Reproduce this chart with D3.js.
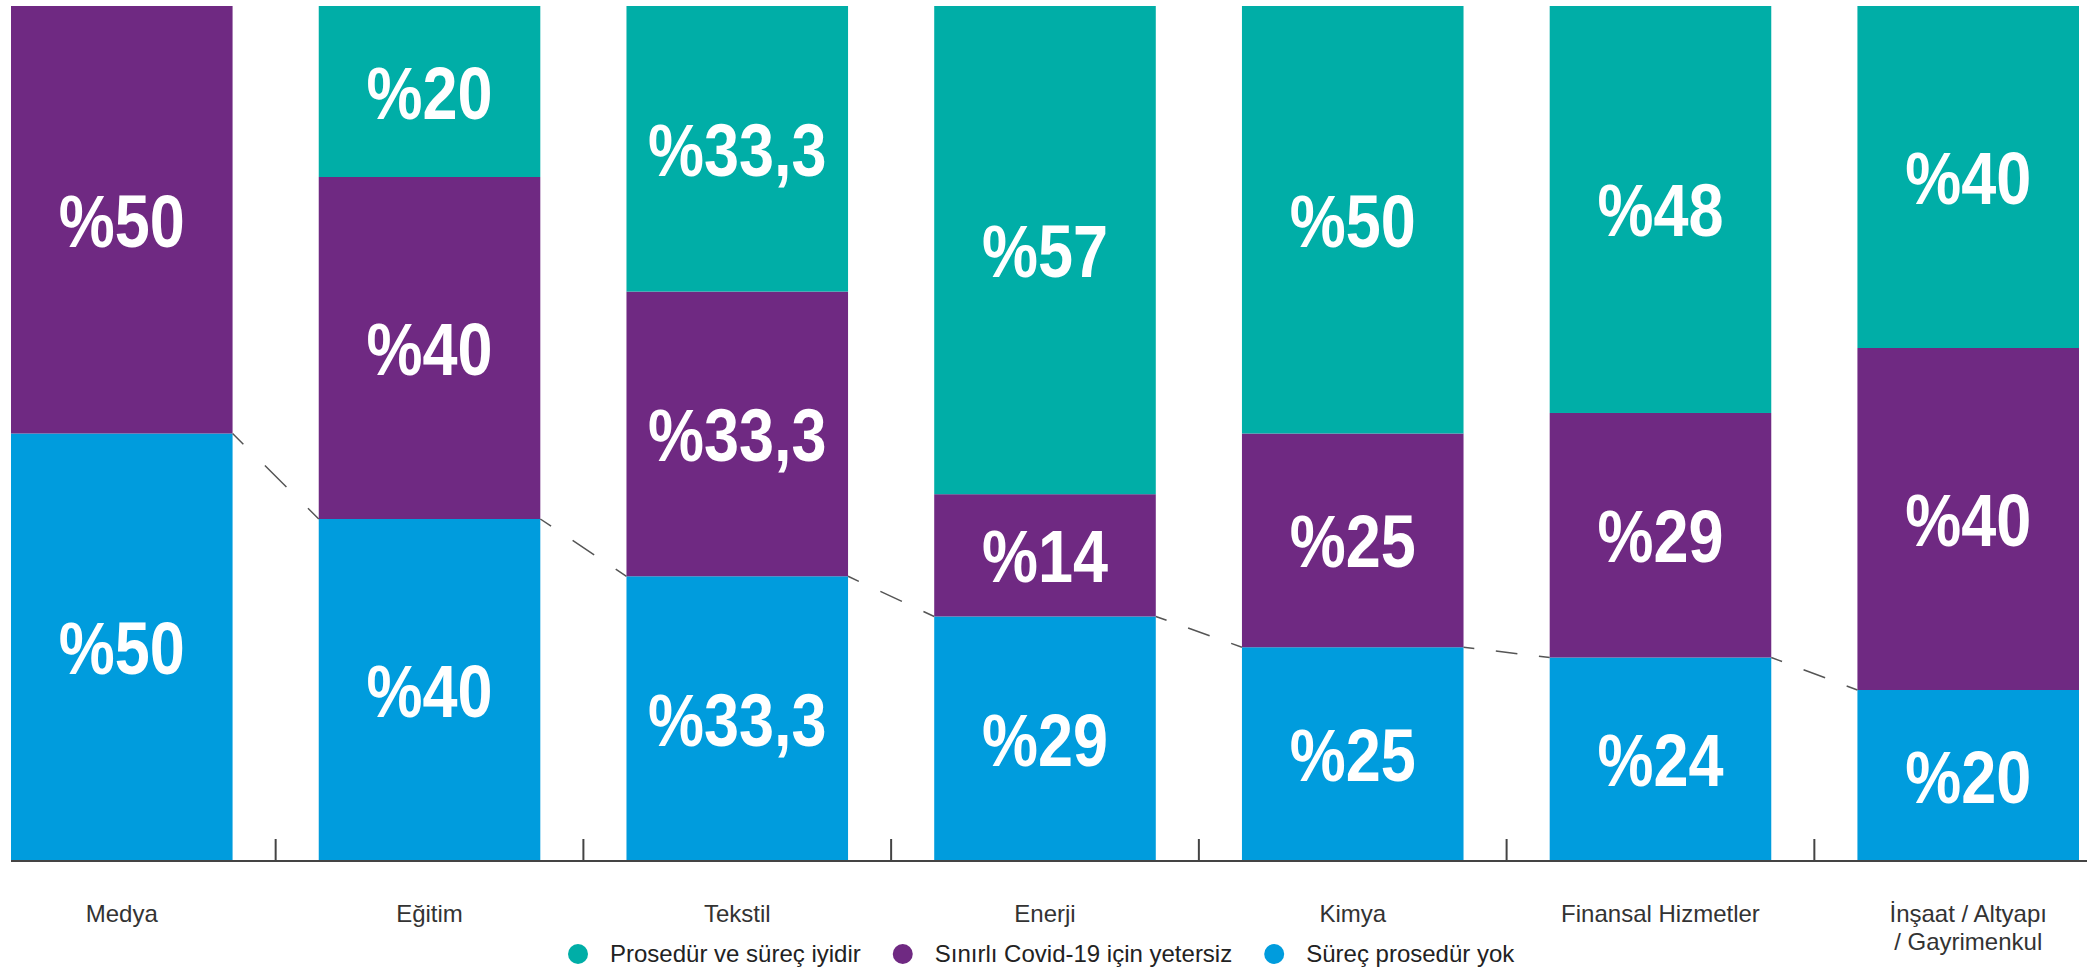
<!DOCTYPE html>
<html>
<head>
<meta charset="utf-8">
<script src="https://cdn.jsdelivr.net/npm/d3@7"></script>
<style>
  body { margin: 0; background: #fff; }
  svg { display: block; }
</style>
</head>
<body>
<div id="chart"></div>
<script>
// chart size
var width = 2087;
var height = 968;

// data
var categories = ["Medya", "Eğitim", "Tekstil", "Enerji", "Kimya", "Finansal Hizmetler", "İnşaat / Altyapı\n/ Gayrimenkul"];
var surecYok = [50, 40, 33.3, 28.6, 25, 23.8, 20];
var yetersiz = [50, 40, 33.3, 14.3, 25, 28.6, 40];
var iyi = [0, 20, 33.4, 57.1, 50, 47.6, 40];
var surecYokLabels = ["%50", "%40", "%33,3", "%29", "%25", "%24", "%20"];
var yetersizLabels = ["%50", "%40", "%33,3", "%14", "%25", "%29", "%40"];
var iyiLabels = ["", "%20", "%33,3", "%57", "%50", "%48", "%40"];
var seriesNames = ["Prosedür ve süreç iyidir", "Sınırlı Covid-19 için yetersiz", "Süreç prosedür yok"];

// colours
var teal = "#00aea7";
var purple = "#6f2982";
var blue = "#009cdd";

var keys = ["yok", "yetersiz", "iyi"];
var colors = { yok: blue, yetersiz: purple, iyi: teal };
var labelsByKey = { yok: surecYokLabels, yetersiz: yetersizLabels, iyi: iyiLabels };

var table = categories.map(function (c, i) {
	return { cat: c, yok: surecYok[i], yetersiz: yetersiz[i], iyi: iyi[i], idx: i };
});

var svg = d3.select("#chart").append("svg")
	.attr("width", width)
	.attr("height", height);

var x = d3.scaleBand()
	.domain(categories)
	.range([11, 2079])
	.paddingInner(0.28)
	.paddingOuter(0);

var y = d3.scaleLinear()
	.domain([0, 100])
	.range([861, 6]);

var stacked = d3.stack().keys(keys)(table);

// bars
var layers = svg.selectAll("g.layer")
	.data(stacked)
	.enter().append("g")
	.attr("class", "layer")
	.attr("fill", function (d) { return colors[d.key]; });

layers.selectAll("rect")
	.data(function (d) { return d; })
	.enter().append("rect")
	.attr("x", function (d) { return x(d.data.cat); })
	.attr("y", function (d) { return y(d[1]); })
	.attr("width", x.bandwidth())
	.attr("height", function (d) { return y(d[0]) - y(d[1]); });

// check if the narrow font exists, else squeeze the bold labels
var ctx = document.createElement("canvas").getContext("2d");
ctx.font = "bold 75px 'Liberation Sans Narrow', 'Liberation Sans'";
var wNarrow = ctx.measureText("%33,3").width;
ctx.font = "bold 75px 'Liberation Sans'";
var wWide = ctx.measureText("%33,3").width;
var hasNarrow = wNarrow < wWide - 5;
var squeeze = hasNarrow ? 1 : 0.84;

// value labels
layers.selectAll("text")
	.data(function (d) {
		return d.map(function (s) { return { s: s, key: d.key }; });
	})
	.enter().append("text")
	.attr("transform", function (d) {
		var cx = x(d.s.data.cat) + x.bandwidth() / 2;
		var cy = (y(d.s[0]) + y(d.s[1])) / 2;
		return "translate(" + cx + "," + cy + ") scale(" + squeeze + ",1)";
	})
	.attr("dy", "0.36em")
	.attr("text-anchor", "middle")
	.attr("fill", "#fff")
	.style("font-family", "'Liberation Sans Narrow', 'Liberation Sans', Arial, sans-serif")
	.style("font-weight", "bold")
	.style("font-size", "75px")
	.text(function (d) { return labelsByKey[d.key][d.s.data.idx]; });

// dashed connectors between the blue tops
for (var i = 0; i < categories.length - 1; i++) {
	var x1 = x(categories[i]) + x.bandwidth();
	var y1 = y(surecYok[i]);
	var x2 = x(categories[i + 1]);
	var y2 = y(surecYok[i + 1]);
	var len = Math.sqrt((x2 - x1) * (x2 - x1) + (y2 - y1) * (y2 - y1));
	var dash = len / 4;
	svg.append("line")
		.attr("x1", x1).attr("y1", y1)
		.attr("x2", x2).attr("y2", y2)
		.attr("stroke", "#555")
		.attr("stroke-width", 1.5)
		.attr("stroke-dasharray", dash + " " + dash)
		.attr("stroke-dashoffset", dash / 2);
}

// baseline and ticks between the bars
svg.append("line")
	.attr("x1", 11).attr("x2", width)
	.attr("y1", y(0)).attr("y2", y(0))
	.attr("stroke", "#444")
	.attr("stroke-width", 2);

var gap = x.step() - x.bandwidth();
svg.selectAll("line.tick")
	.data(categories.slice(1))
	.enter().append("line")
	.attr("class", "tick")
	.attr("x1", function (d) { return x(d) - gap / 2; })
	.attr("x2", function (d) { return x(d) - gap / 2; })
	.attr("y1", 839)
	.attr("y2", y(0))
	.attr("stroke", "#444")
	.attr("stroke-width", 2);

// category labels
svg.selectAll("text.cat")
	.data(categories)
	.enter().append("text")
	.attr("class", "cat")
	.attr("x", function (d) { return x(d) + x.bandwidth() / 2; })
	.attr("y", 922)
	.attr("text-anchor", "middle")
	.attr("fill", "#333")
	.style("font-family", "'Liberation Sans', Arial, sans-serif")
	.style("font-size", "24px")
	.each(function (d) {
		var lines = d.split("\n");
		var t = d3.select(this);
		lines.forEach(function (l, k) {
			t.append("tspan")
				.attr("x", x(d) + x.bandwidth() / 2)
				.attr("dy", k == 0 ? 0 : 28)
				.text(l);
		});
	});

// legend
var legendColors = [teal, purple, blue];
var lx = 578;
var legend = svg.append("g").attr("class", "legend");
seriesNames.forEach(function (name, k) {
	legend.append("circle")
		.attr("cx", lx)
		.attr("cy", 954)
		.attr("r", 10)
		.attr("fill", legendColors[k]);
	var t = legend.append("text")
		.attr("x", lx + 32)
		.attr("y", 962)
		.attr("fill", "#222")
		.style("font-family", "'Liberation Sans', Arial, sans-serif")
		.style("font-size", "24px")
		.text(name);
	lx = lx + 32 + t.node().getComputedTextLength() + 42;
});
</script>
</body>
</html>
